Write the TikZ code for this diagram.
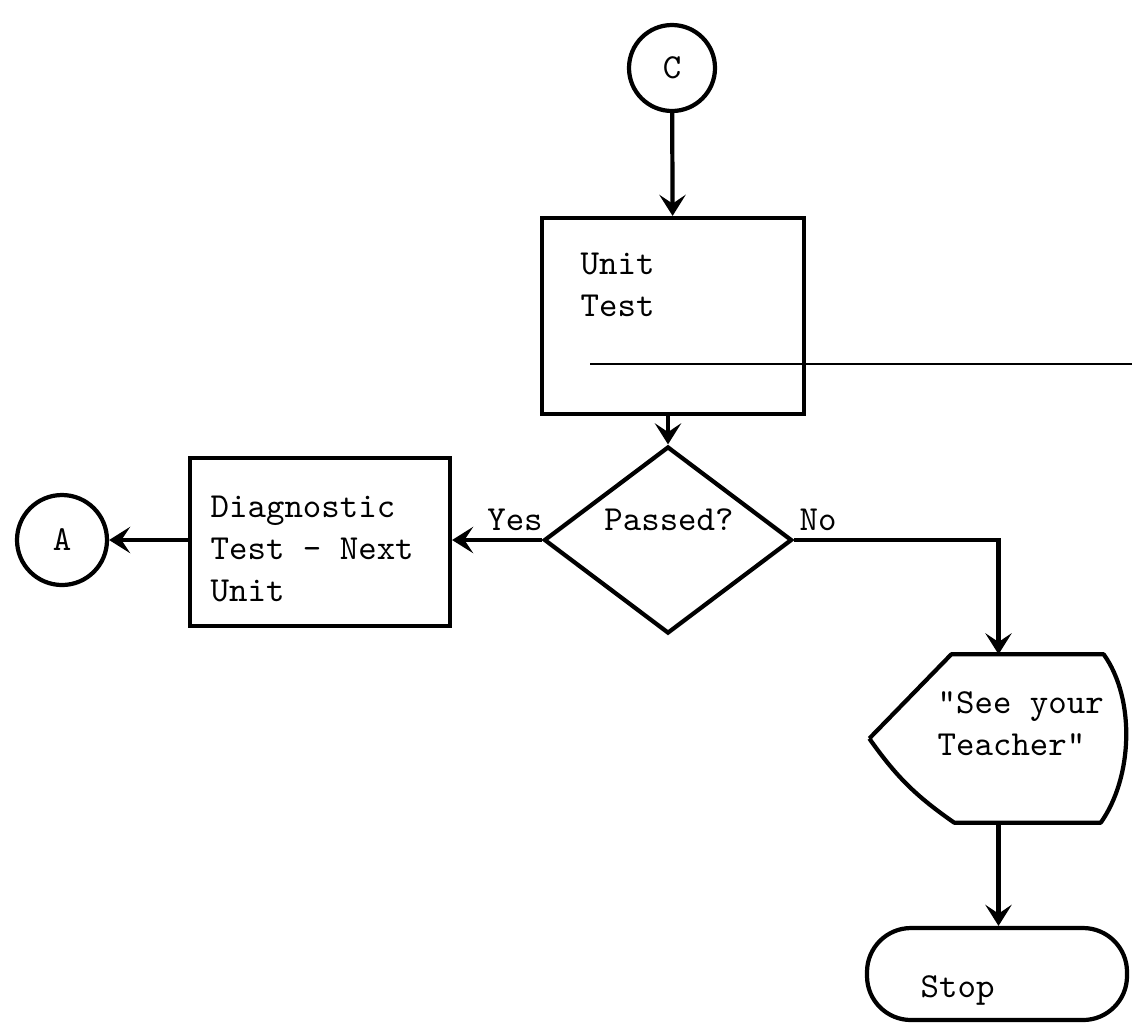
\documentclass[tikz,border=0pt]{standalone}
\usepackage{fontspec}
\usepackage{tikz}
\usetikzlibrary{arrows.meta, positioning, shapes.geometric, calc}

\begin{document}
\begin{tikzpicture}[
  conn/.style={draw, circle, line width=1.2pt, minimum size=#1, inner sep=0pt,
               font=\ttfamily},
  proc/.style={draw, line width=1.2pt, minimum width=2.62cm, minimum height=1.96cm},
  dec/.style={draw, diamond, line width=1.2pt, minimum width=2.48cm,
              minimum height=1.87cm, inner sep=0pt},
  term/.style={draw, line width=1.2pt, rounded corners=0.44cm,
               minimum width=2.60cm, minimum height=0.92cm},
  txt/.style={font=\ttfamily, align=left, inner sep=0pt},
  earr/.style={draw, line width=1.2pt, -{Stealth[length=6pt,width=7.5pt,inset=2.5pt]}}
]
\useasboundingbox (0,0) rectangle (11.32,-10.24);

% Connector C and unit test
\node[conn=0.86cm] (C) at (6.72,-0.68) {C};
\node[proc] (UT) at (6.73,-3.16) {};
\node[txt, anchor=west] (UTt) at (5.80,-2.85) {Unit\\Test};
\draw[earr] (C)--(UT);

% Thin line across the box
\coordinate (L1) at (5.90,-3.64);
\coordinate (L2) at (11.32,-3.64);
\draw[line width=0.5pt] (L1)--(L2);

% Decision
\node[dec] (D) at (6.68,-5.40) {};
\node[txt] (Dt) at (6.69,-5.20) {Passed?};
\draw[earr] (D.north |- UT.south)--(D.north);

% Yes branch
\node[proc, minimum width=2.60cm, minimum height=1.68cm] (DT) at (3.20,-5.42) {};
\node[txt, anchor=west] (DTt) at (2.10,-5.49) {Diagnostic\\Test - Next\\Unit};
\node[conn=0.90cm] (A) at (0.62,-5.40) {A};
\draw[earr] (D.west)--(D.west -| DT.east);
\draw[earr] (DT.west |- A.east)--(A.east);
\node[txt] (yes) at (5.15,-5.20) {Yes};

% No branch
\node[txt] (no) at (8.18,-5.20) {No};
\node[minimum width=2.57cm, minimum height=1.67cm, inner sep=0pt] (SY) at (9.985,-7.385) {};
\draw[line width=1.2pt, line join=round]
  (SY.west) -- ($(SY.north west)+(0.82,0)$) -- ($(SY.north east)+(-0.24,0)$)
  .. controls ($(SY.north east)+(0.08,-0.45)$) and ($(SY.south east)+(0.05,0.45)$)
  .. ($(SY.south east)+(-0.27,0)$) -- ($(SY.south west)+(0.85,0)$)
  to[bend left=10] (SY.west);
\node[txt, anchor=west] (SYt) at (9.37,-7.24) {"See your\\Teacher"};
\draw[earr] (D.east) -| (SY.north);

% Stop
\node[term] (ST) at (9.97,-9.74) {};
\node[txt, anchor=west] (STt) at (9.20,-9.90) {Stop};
\draw[earr] (SY.south)--(SY.south |- ST.north);
\end{tikzpicture}
\end{document}
